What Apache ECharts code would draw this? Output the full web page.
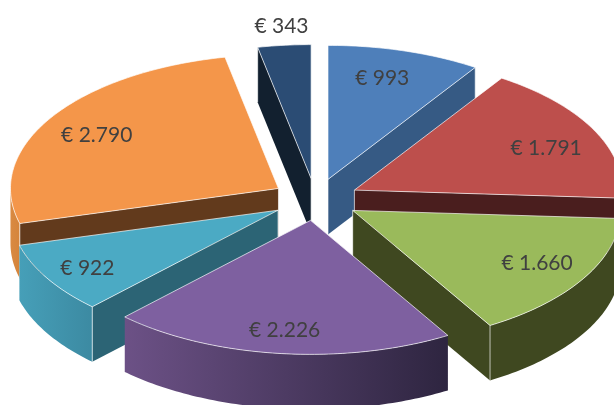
<!DOCTYPE html>
<html><head><meta charset="utf-8">
<style>html,body{margin:0;padding:0;background:#fff}#c{width:614px;height:405px}</style>
<script src="https://cdn.jsdelivr.net/npm/echarts@6/dist/echarts.min.js"></script>
</head><body><div id="c"></div>
<script>
// Data (clockwise from 12 o'clock)
const values = [993, 1791, 1660, 2226, 922, 2790, 343];

// Styles
const topColors  = ['#4e7fba', '#bd4f4c', '#9aba5b', '#7e60a0', '#4baac4', '#f4964a', '#2b4c74'];
const edgeColors = ['#365a84', '#4a1e1e', '#3f4820', '#3f2f55', '#2c6475', '#623a1c', '#12202f'];
const rimColors  = [['#365a84','#365a84'], ['#4a1e1e','#4a1e1e'], ['#3f4820','#3f4820'],
                    ['#6c5186','#2e2540'], ['#469fb8','#3c8aa2'], ['#d98a42','#d5843b'], ['#12202f','#12202f']];
const rank = [1, 3, 5, 6, 4, 2, 0]; // back-to-front paint rank per slice
const labelRadius = [105, 105, 105, 105, 105, 105, 153];
const labelNudge = [[-6,-1],[4,5],[5,-2],[-2,6],[-10,5],[-3,2],[1,0]];

// Layout
const CX = 315.5, CY = 199.5, RX = 268, RY = 134, EXPLODE_X = 43.5, EXPLODE_Y = 21, DEPTH = 55;
const EDGE = 'rgba(255,255,255,0.75)';
const total = values.reduce((a, b) => a + b, 0);
const fmt = v => '€ ' + String(v).replace(/\B(?=(\d{3})+$)/g, '.');
const rad = d => d * Math.PI / 180;

function renderItem(params, api) {
  const i = params.dataIndex;
  const v = api.value(0);
  let sum = 0;
  for (let k = 0; k < i; k++) sum += values[k];
  const a0 = sum / total * 360, a1 = (sum + v) / total * 360, mid = (a0 + a1) / 2;
  const ax = CX + EXPLODE_X * Math.sin(rad(mid)), ay = CY - EXPLODE_Y * Math.cos(rad(mid));
  const pt = a => [ax + RX * Math.sin(rad(a)), ay - RY * Math.cos(rad(a))];
  const down = p => [p[0], p[1] + DEPTH];
  const z = rank[i] * 10;
  const kids = [];
  const line = (p, q, zz) => kids.push({ type: 'line', z2: zz, shape: { x1: p[0], y1: p[1], x2: q[0], y2: q[1] },
    style: { stroke: EDGE, lineWidth: 0.9 } });

  const angles = [];
  for (let a = a0; a < a1; a += 1) angles.push(a);
  angles.push(a1);
  const arc = angles.map(pt);

  // visible radial wall(s)
  const wall = a => {
    const p = pt(a);
    kids.push({ type: 'polygon', z2: z + 1, shape: { points: [[ax, ay], p, down(p), down([ax, ay])] },
      style: { fill: edgeColors[i] } });
    line(p, down(p), z + 3);
    line([ax, ay], down([ax, ay]), z + 3);
  };
  if (Math.sin(rad(a1)) > 0) wall(a1);
  if (Math.sin(rad(a0)) < 0) wall(a0);

  // visible outer rim wall (front half of the ellipse)
  const front = angles.filter(a => a >= 90 && a <= 270).map(pt);
  if (front.length > 1) {
    const pts = front.concat(front.slice().reverse().map(down));
    kids.push({ type: 'polygon', z2: z + 2, shape: { points: pts },
      style: { fill: new echarts.graphic.LinearGradient(0, 0, 1, 0, [
        { offset: 0, color: rimColors[i][0] }, { offset: 1, color: rimColors[i][1] }]) } });
  }

  // top face
  kids.push({ type: 'polygon', z2: z + 4, shape: { points: [[ax, ay]].concat(arc) },
    style: { fill: topColors[i], stroke: EDGE, lineWidth: 0.9, lineJoin: 'round' } });

  // value label
  const r = labelRadius[i];
  kids.push({ type: 'text', z2: 1000, style: {
    x: ax + 2 * r * Math.sin(rad(mid)) + labelNudge[i][0],
    y: ay - r * Math.cos(rad(mid)) + labelNudge[i][1],
    text: fmt(v), fill: '#404040', font: '21px Lato', align: 'center', verticalAlign: 'middle' } });

  return { type: 'group', children: kids };
}

const chart = echarts.init(document.getElementById('c'), null, { renderer: 'canvas' });
chart.setOption({
  animation: false,
  backgroundColor: '#ffffff',
  series: [{ type: 'custom', coordinateSystem: 'none', renderItem, data: values.map(v => [v]), clip: false, silent: true }]
});
</script></body></html>
